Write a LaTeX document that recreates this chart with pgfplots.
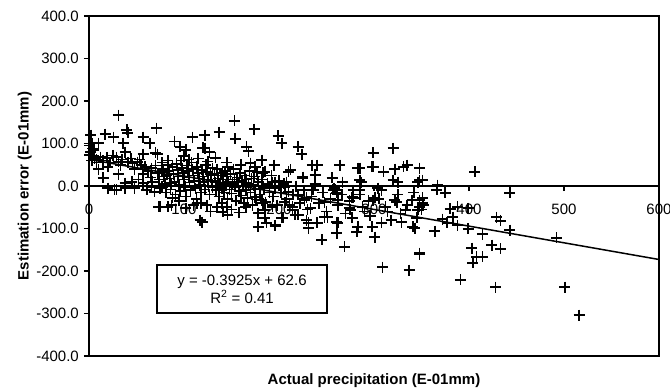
\documentclass[border=0pt]{standalone}
\usepackage{fontspec}
\setmainfont{Liberation Sans}
\usepackage{pgfplots}
\pgfplotsset{compat=1.18}
\begin{document}
\fontsize{15}{18}\selectfont
\begin{tikzpicture}
\begin{axis}[
  scale only axis, width=570pt, height=340pt,
  xmin=0, xmax=600, ymin=-400, ymax=400,
  axis x line=middle, axis y line=left,
  axis line style={-, line width=1.4pt},
  xtick={0,100,...,600}, ytick={-400,-300,...,400},
  hide obscured x ticks=false, hide obscured y ticks=false,
  tick align=outside, major tick length=5pt,
  tick style={line width=1.3pt, black},
  /pgf/number format/assume math mode=true,
  ticklabel style={font=\fontsize{15}{18}\selectfont},
  xticklabel style={anchor=north, yshift=-8pt},
  yticklabel style={/pgf/number format/.cd, fixed, fixed zerofill, precision=1},
  every axis x label/.style={at={(axis description cs:0.5,0)}, anchor=base, yshift=-28pt, inner sep=0pt},
  every axis y label/.style={at={(axis description cs:-0.106,0.5)}, anchor=base, rotate=90, inner sep=0pt},
  xlabel={\bfseries Actual precipitation (E-01mm)},
  ylabel={\bfseries Estimation error (E-01mm)},
  clip=false,
]
\draw[line width=1.4pt] (rel axis cs:0,0) rectangle (rel axis cs:1,1);
\addplot[only marks, mark=+, mark size=5.5pt, line width=1.6pt, black] coordinates {
(2,120) (3,100) (1,95) (4,88) (2,80) (5,72) (6,65) (3,60) (8,55)
(31,167) (40,132) (41,125) (71,136) (17,122) (36,101) (10,101) (57,115) (64,101) (109,115) (96,92) (70,78)
(26,115) (90,105) (102,85) (120,90) (127,80)
(1,73) (12,68) (19,66) (29,68) (31,57) (33,49) (41,56) (46,54) (51,56) (57,75) (72,75) (59,45) (57,28) (66,42) (77,38) (83,49) (82,26)
(5,85) (8,62) (15,60) (22,55) (25,72) (35,62) (38,80) (44,65) (48,40) (53,62) (55,50) (20,45) (10,40)
(15,19) (31,28) (29,-9) (38,-5) (48,-5) (38,7) (48,-2) (27,-9) (57,7) (61,-9) (66,-2) (69,-14) (77,-2) (87,7) (75,-49) (87,-45) (73,-49) (83,-49) (117,-80) (20,-5) (45,10) (52,15)
(62,35) (65,20) (67,10) (70,48) (72,30) (74,15) (75,-5) (77,55) (78,40) (79,22) (80,5) (81,-15) (83,60) (84,35) (85,18) (86,-8) (88,45) (89,28) (90,10) (91,-20)
(92,52) (93,38) (94,22) (95,3) (96,-12) (97,60) (98,42) (99,30) (100,15) (101,-2) (102,-25) (103,48) (104,35) (105,20) (106,8) (107,-10) (108,55) (109,40) (110,25) (111,12)
(112,-5) (113,-30) (114,45) (115,30) (116,18) (117,2) (118,-15) (119,38) (120,22) (121,10) (122,-8) (123,50) (124,33) (125,15) (126,0) (127,-20) (128,28) (129,12) (130,-3)
(100,70) (105,62) (115,65) (125,58) (130,42) (118,-40) (110,-45) (95,-35) (88,-28) (102,-52) (124,-45) (128,-60)
(132,25) (133,8) (134,-10) (135,40) (136,18) (137,-25) (138,5) (139,30) (140,-5) (141,15) (142,-15) (143,35) (144,2) (145,22) (146,-30) (147,10) (148,-8) (149,28) (150,-18) (151,5)
(152,40) (153,15) (154,-2) (155,-35) (156,20) (157,8) (158,-12) (159,30) (160,-22) (161,12) (162,0) (163,-40) (164,25) (165,-10) (166,15) (167,-28) (168,5) (169,35) (170,-15) (171,18)
(172,-45) (173,2) (174,22) (175,-8) (176,-32) (178,10) (180,-20) (182,15) (184,-5) (186,-38) (188,5) (190,-15) (192,25) (194,-25) (196,-5) (198,-45) (200,12)
(135,-50) (140,-40) (150,-55) (158,-62) (165,-50) (145,55) (160,50) (175,45)
(153,153) (174,134) (137,127) (122,120) (154,111) (199,118) (203,101) (220,92) (224,75) (166,92) (168,82) (122,89) (133,66) (182,61) (195,49) (170,54) (212,38) (146,45) (177,33) (185,33)
(235,49) (196,9) (225,19) (206,-2) (166,7) (175,-26) (182,-33) (145,-49) (141,-61) (146,-68) (119,-85) (185,-56) (193,-49) (204,-75) (187,-87) (178,-96) (196,-94) (214,-49) (220,-68) (229,-80) (231,-99) (114,-40)
(240,49) (264,49) (210,33) (225,21) (256,19) (238,26) (183,31) (193,9) (208,9) (210,-14) (220,-21) (236,-9) (257,-9) (261,-16) (183,-40) (193,-45) (206,-38) (227,-33) (233,-52) (214,-56)
(203,-75) (185,-75) (217,-68) (251,-73) (261,-85) (231,-87) (240,-87) (196,-92) (178,-64)
(202,-15) (205,5) (208,-30) (211,-45) (215,-20) (218,0) (222,-40) (226,-10) (230,-55) (234,-25) (238,5) (242,-40) (246,-15) (250,-60) (254,-30) (258,-5) (262,-45) (266,-20) (270,-65) (274,-35) (278,-10)
(320,89) (299,78) (283,42) (299,45) (310,33) (322,40) (331,45) (348,42) (267,9) (285,14) (304,-5) (320,14) (348,14) (235,-9) (259,-9) (285,-9) (301,-28) (277,-26) (322,-33) (340,-33) (351,-28)
(229,-28) (248,-38) (262,-33) (274,-52) (288,-49) (312,-49) (333,-56) (348,-49) (248,-73) (262,-87) (277,-75) (283,-96) (298,-96) (308,-87) (329,-85) (341,-96)
(245,-127) (261,-111) (269,-143) (301,-120) (348,-158) (309,-191) (337,-198)
(285,42) (298,45) (335,49) (287,9) (325,9) (346,9) (278,-28) (299,-33) (324,-38) (351,-40) (275,-56) (343,-99) (282,-108)
(285,-20) (290,-60) (294,-35) (296,-70) (305,-30) (308,-10) (314,-60) (318,-80) (325,-20) (328,-65) (335,-45) (342,-15) (345,-75) (350,-55)
(406,33) (351,14) (367,2) (366,-9) (375,-16) (443,-16) (348,-33) (352,-45) (346,-56) (380,-54) (388,-49) (399,-52) (383,-73) (372,-78) (377,-87) (388,-92) (399,-101) (414,-113)
(429,-73) (433,-82) (443,-104) (364,-106) (343,-99) (348,-160) (403,-146) (424,-139) (433,-148) (408,-167) (414,-167) (404,-181) (391,-221) (428,-238)
(492,-122) (501,-238) (516,-304)
};
\addplot[line width=1.5pt, black] coordinates {(0,62.6) (600,-172.9)};
\node[draw, line width=1.3pt, fill=white, minimum width=170pt, minimum height=48pt, align=center, inner sep=0pt, font=\fontsize{15}{18}\selectfont]
  at (rel axis cs:0.2684,0.197) {y = -0.3925x + 62.6\\R\textsuperscript{2} = 0.41};
\end{axis}
\pgfresetboundingbox
\path (-89pt,-33pt) rectangle (581pt,356pt);
\end{tikzpicture}
\end{document}
